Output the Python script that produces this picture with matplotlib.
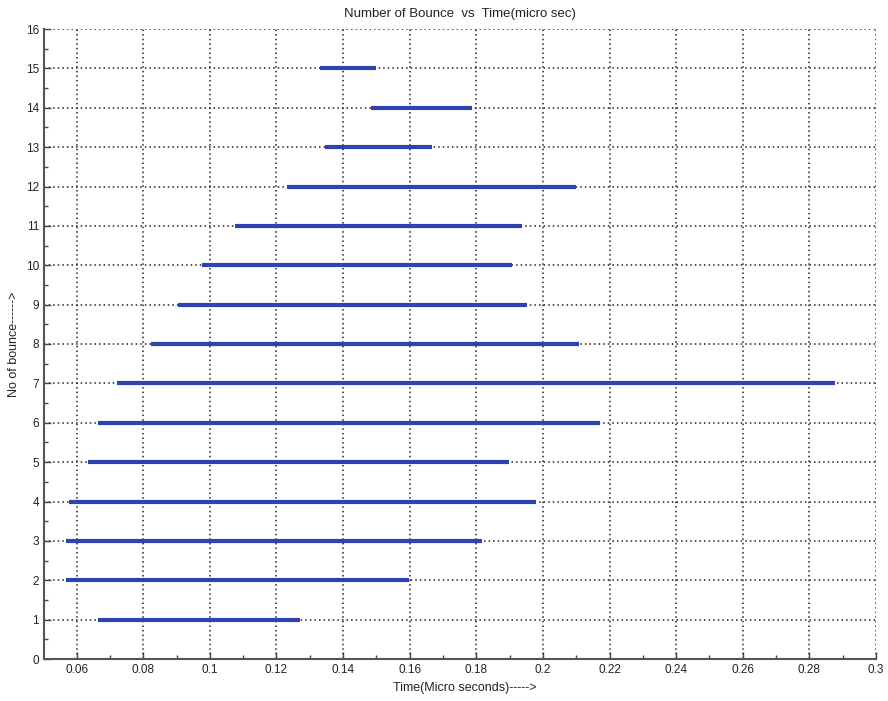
import matplotlib
matplotlib.use("Agg")
import matplotlib.pyplot as plt
from matplotlib.ticker import MultipleLocator

plt.rcParams['font.family'] = ['Liberation Sans', 'DejaVu Sans']

bounces = [1, 2, 3, 4, 5, 6, 7, 8, 9, 10, 11, 12, 13, 14, 15]
t_start = [0.0665, 0.0568, 0.0568, 0.0578, 0.0635, 0.0665, 0.0720, 0.0823,
           0.0905, 0.0977, 0.1075, 0.1231, 0.1345, 0.1483, 0.1330]
t_end = [0.1270, 0.1597, 0.1818, 0.1980, 0.1898, 0.2170, 0.2878, 0.2107,
         0.1953, 0.1908, 0.1938, 0.2098, 0.1667, 0.1788, 0.1498]
x_ticks = [0.06, 0.08, 0.1, 0.12, 0.14, 0.16, 0.18, 0.2, 0.22, 0.24, 0.26, 0.28, 0.3]
x_tick_labels = ['0.06', '0.08', '0.1', '0.12', '0.14', '0.16', '0.18', '0.2',
                 '0.22', '0.24', '0.26', '0.28', '0.3']
y_ticks = list(range(0, 17))

fig = plt.figure(figsize=(8.88, 7.01), dpi=100)
ax = fig.add_axes([44/888, 42/701, 832/888, 630/701])

for y, a, b in zip(bounces, t_start, t_end):
    ax.plot([a, b], [y, y], color='#2e43b0', lw=3.0, solid_capstyle='butt', zorder=3)

ax.set_xlim(0.0502, 0.3)
ax.set_ylim(0, 16)
ax.set_xticks(x_ticks)
ax.set_xticklabels(x_tick_labels)
ax.set_yticks(y_ticks)
ax.xaxis.set_minor_locator(MultipleLocator(0.01))
ax.yaxis.set_minor_locator(MultipleLocator(0.5))
ax.tick_params(which='both', direction='in', colors='#444444', labelcolor='#222222',
               labelsize=8.5, top=False, right=False)
ax.tick_params(which='major', length=5, width=1)
ax.tick_params(which='minor', length=3, width=1)
ax.grid(True, which='major', color='#222222', linestyle=(0, (1, 2)), lw=1.1)
for s in ['top', 'right']:
    ax.spines[s].set_visible(False)
for s in ['left', 'bottom']:
    ax.spines[s].set_color('#555555')
    ax.spines[s].set_linewidth(1.5)

ax.set_title('Number of Bounce  vs  Time(micro sec)', fontsize=9.5, color='#222222', pad=9)
ax.set_xlabel('Time(Micro seconds)----->', fontsize=9, color='#222222')
ax.set_ylabel('No of bounce------>', fontsize=9, color='#222222')
ax.xaxis.set_label_coords(0.506, -0.046)
ax.yaxis.set_label_coords(-0.036, 0.5)
ax.xaxis.label.set_va('center')
ax.yaxis.label.set_va('center')

fig.savefig('out.png', dpi=100, facecolor='white')
